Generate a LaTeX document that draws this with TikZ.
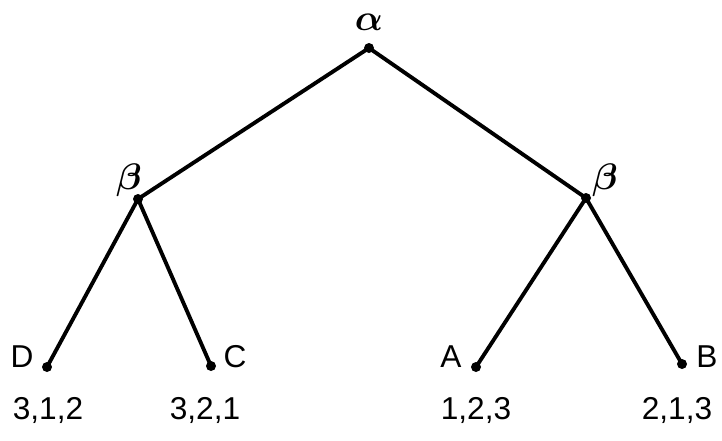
\documentclass[tikz,border=0pt]{standalone}
\usepackage{fontspec}
\setmainfont{Liberation Sans}
\usetikzlibrary{calc}

\newcommand{\gk}[1]{\scalebox{2.1}{$#1$}}

\begin{document}
\begin{tikzpicture}[x=0.02cm, y=-0.02cm, line cap=round, line join=round,
  branch/.style={line width=2.2pt},
  lbl/.style={font=\fontsize{18}{20}\selectfont, inner sep=0pt},
  greek/.style={font=\boldmath, inner sep=0pt}]

% ----------------------------
% FRAME
% ----------------------------
\useasboundingbox (0,0) rectangle (722,440);

% ----------------------------
% POINTS
% ----------------------------
\coordinate (root) at (369,48);
\coordinate (bL) at (138,199);
\coordinate (bR) at (586,198);

% leaves
\coordinate (D) at (47,367);
\coordinate (C) at (211,366);
\coordinate (A) at (476,367);
\coordinate (B) at (682,364);

% ----------------------------
% BRANCHES
% ----------------------------
\draw[branch] (root) -- (bL);
\draw[branch] (root) -- (bR);
\draw[branch] (bL) -- (D);
\draw[branch] (bL) -- (C);
\draw[branch] (bR) -- (A);
\draw[branch] (bR) -- (B);

% ----------------------------
% DOTS
% ----------------------------
\foreach \p in {root,bL,bR,D,C,A,B}
  \fill (\p) circle (5);

% ----------------------------
% LABELS
% ----------------------------
\node[greek] (alpha) at (369,22) {\gk{\alpha}};
\node[greek] (betaL) at (129,180) {\gk{\beta}};
\node[greek] (betaR) at (605,180) {\gk{\beta}};

\node[lbl] (labD) at (22,357) {D};
\node[lbl] (labC) at (235,357) {C};
\node[lbl] (labA) at (451,357) {A};
\node[lbl] (labB) at (707,357) {B};

\node[lbl] (payD) at (48,410) {3,1,2};
\node[lbl] (payC) at (205,410) {3,2,1};
\node[lbl] (payA) at (476,410) {1,2,3};
\node[lbl] (payB) at (677,410) {2,1,3};

\end{tikzpicture}
\end{document}
